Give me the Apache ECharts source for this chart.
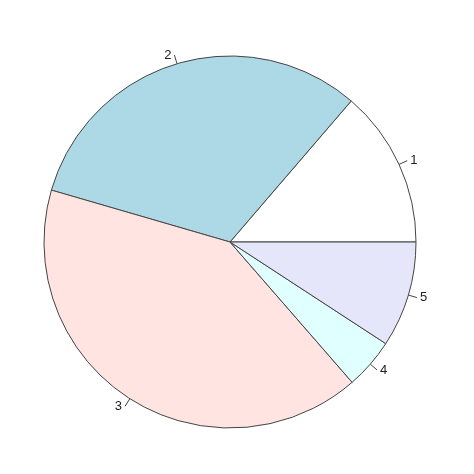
<!DOCTYPE html>
<html><head><meta charset="utf-8">
<script src="https://cdn.jsdelivr.net/npm/echarts@6/dist/echarts.min.js"></script>
<style>html,body{margin:0;background:#fff}#c{width:474px;height:474px}</style>
</head><body><div id="c"></div>
<script>
const categories = ['1','2','3','4','5'];
const values = [13.7, 31.8, 40.9, 4.4, 9.2];
const colors = ['#FFFFFF','#ADD8E6','#FFE4E1','#E0FFFF','#E6E6FA'];
const chart = echarts.init(document.getElementById('c'));
chart.setOption({
  animation:false,
  series:[{
    type:'pie', center:[230,242], radius:[0,186],
    startAngle:0, clockwise:false,
    data: categories.map((c,i)=>({name:c,value:values[i],itemStyle:{color:colors[i]}})),
    itemStyle:{borderColor:'#444',borderWidth:1},
    label:{show:true,formatter:'{b}',color:'#222',fontSize:13,fontFamily:'Liberation Sans, Arial',distanceToLabelLine:3},
    labelLine:{show:true,length:9,length2:0,lineStyle:{color:'#444',width:1}},
    emphasis:{disabled:true}
  }]
});
</script></body></html>
